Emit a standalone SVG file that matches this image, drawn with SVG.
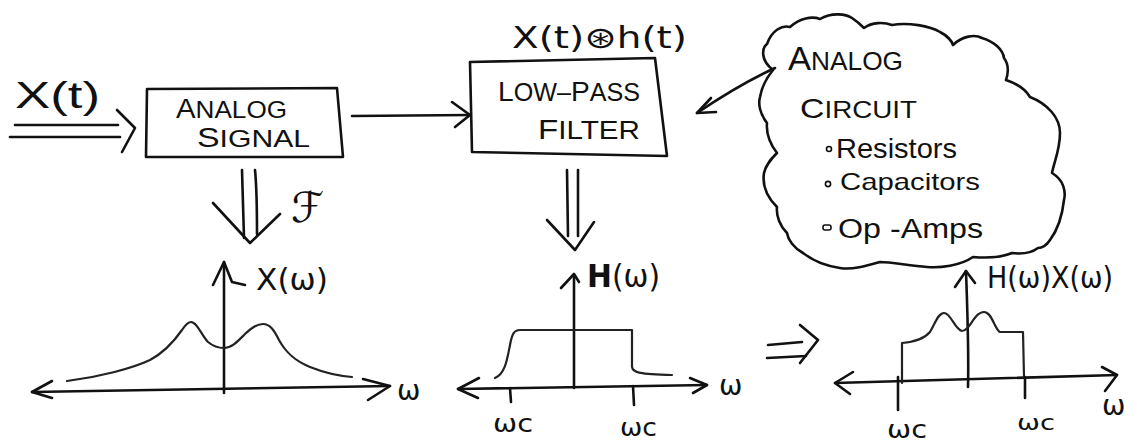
<svg xmlns="http://www.w3.org/2000/svg" width="1137" height="442" viewBox="0 0 1137 442">
<style>
.s{fill:none;stroke:#111;stroke-width:2.6;stroke-linecap:round;stroke-linejoin:round}
.c{fill:none;stroke:#222;stroke-width:2.2;stroke-linecap:round;stroke-linejoin:round}
.t{font-family:"Liberation Sans","DejaVu Sans",sans-serif;fill:#111}
.m{font-family:"DejaVu Sans","Liberation Sans",sans-serif;fill:#111}
</style>
<rect width="1137" height="442" fill="#fff"/>

<g id="input">
<text class="t" x="15" y="108" font-size="36" textLength="85" lengthAdjust="spacingAndGlyphs">X(t)</text>
</g>

<g id="analog-signal">
<path class="s" d="M147,89 L337,88 L343,157 L146,157 Z"/>
<text class="t" x="176" y="118" font-size="24" textLength="111" lengthAdjust="spacingAndGlyphs"><tspan font-size="27">A</tspan>NALOG</text>
<text class="t" x="197" y="147" font-size="24" textLength="113" lengthAdjust="spacingAndGlyphs"><tspan font-size="27">S</tspan>IGNAL</text>
</g>

<g id="low-pass-filter">
<path class="s" d="M470,62 L655,58 L667,156 L472,152 Z"/>
<text class="t" x="498" y="101" font-size="25" textLength="142" lengthAdjust="spacingAndGlyphs"><tspan font-size="28">L</tspan>OW–<tspan font-size="28">P</tspan>ASS</text>
<text class="t" x="538" y="139" font-size="25" textLength="102" lengthAdjust="spacingAndGlyphs"><tspan font-size="28">F</tspan>ILTER</text>
<text class="m" x="512" y="48" font-size="30" textLength="175" lengthAdjust="spacingAndGlyphs">X(t)⊛h(t)</text>
</g>

<g id="analog-circuit">
<path class="s" d="M773,70 C760,60 762,48 767,44 C772,30 782,25 790,27 C800,18 812,16 820,19 C832,12 846,14 852,18 C858,22 862,26 864,28 C872,22 884,22 892,25 C908,22 930,26 940,32 C948,36 952,42 953,45 C962,36 975,34 982,38 C995,42 1003,50 1004,58 C1010,66 1008,74 1006,80 C1018,84 1026,90 1030,97 C1048,104 1060,118 1060,133 C1060,150 1054,162 1052,173 C1064,180 1066,192 1064,200 C1062,218 1056,232 1050,240 C1046,246 1042,248 1038,248 C1030,254 1020,254 1012,253 C1000,258 985,258 973,257 C960,266 940,268 927,267 C910,266 892,262 880,262 C866,266 852,270 840,268 C826,266 812,260 803,253 C794,248 788,240 787,233 C780,226 776,216 777,207 C768,198 762,186 764,173 C766,164 772,158 777,153 C770,144 766,134 767,123 C760,114 758,104 760,97 C762,86 768,76 773,70 Z"/>
<text class="t" x="788" y="70" font-size="25" textLength="115" lengthAdjust="spacingAndGlyphs"><tspan font-size="33">A</tspan>NALOG</text>
<text class="t" x="800" y="118" font-size="23" textLength="117" lengthAdjust="spacingAndGlyphs"><tspan font-size="28">C</tspan>IRCUIT</text>
<circle cx="829" cy="149" r="2.5" fill="none" stroke="#111" stroke-width="1.6"/>
<text class="t" x="836" y="158" font-size="28" textLength="121" lengthAdjust="spacingAndGlyphs">Resistors</text>
<circle cx="828" cy="184" r="2.6" fill="none" stroke="#111" stroke-width="1.6"/>
<text class="t" x="840" y="190" font-size="24" textLength="140" lengthAdjust="spacingAndGlyphs">Capacitors</text>
<rect x="823" y="225" width="8" height="5" rx="2" fill="none" stroke="#111" stroke-width="1.6"/>
<text class="t" x="838" y="238" font-size="27" textLength="145" lengthAdjust="spacingAndGlyphs">Op -Amps</text>
</g>

<g id="spectrum-x">
<path class="s" d="M32,392 L390,386"/>
<path class="s" d="M52,381 L32,392 L52,398"/>
<path class="s" d="M363,379 L390,386 L368,400"/>
<path class="s" d="M224,393 L224,262"/>
<path class="s" d="M213,285 L224,262 L232,282 L245,285"/>
<path class="c" d="M67,381 C100,377 133,368 150,360 C165,352 175,340 182,330 C186,324 188,322 191,322 C197,322 202,336 208,342 C214,347 219,348 224,348 C232,348 238,341 245,334 C252,327 257,324 263,324 C270,324 274,330 279,340 C285,351 293,360 310,367 C325,373 340,376 352,377"/>
<text class="m" x="256" y="290" font-size="30" textLength="72" lengthAdjust="spacingAndGlyphs">X(ω)</text>
<text class="m" x="397" y="400" font-size="28">ω</text>
<text class="m" x="291" y="222" font-size="42">ℱ</text>
</g>

<g id="spectrum-h">
<path class="s" d="M458,389 L707,385"/>
<path class="s" d="M479,378 L458,389 L478,398"/>
<path class="s" d="M690,378 L707,385 L693,393"/>
<path class="s" d="M574,388 L574,275"/>
<path class="s" d="M561,288 L574,274 L579,282"/>
<path class="c" d="M495,378 C505,374 507,360 510,345 C512,334 514,330 520,330 L632,330 L632,367 C633,373 640,374 672,375"/>
<path class="s" d="M510,388 L511,402"/>
<path class="s" d="M633,386 L634,405"/>
<text class="m" x="587" y="287" font-size="32" textLength="73" lengthAdjust="spacingAndGlyphs"><tspan font-weight="bold">H</tspan>(ω)</text>
<text class="m" x="719" y="395" font-size="28">ω</text>
<text class="m" x="493" y="432" font-size="24" textLength="40" lengthAdjust="spacingAndGlyphs">ωc</text>
<text class="m" x="620" y="436" font-size="24" textLength="37" lengthAdjust="spacingAndGlyphs">ωc</text>
</g>

<g id="spectrum-hx">
<path class="s" d="M835,383 L1117,375"/>
<path class="s" d="M853,372 L835,383 L850,394"/>
<path class="s" d="M1102,367 L1117,375 L1105,391"/>
<path class="s" d="M968,387 C969,350 967,300 966,271"/>
<path class="s" d="M955,287 L966,271 L975,283"/>
<path class="c" d="M902,383 L902,343 C914,342 924,339 930,332 C935,324 938,313 944,313 C951,313 955,330 962,331 C970,331 974,312 984,312 C992,312 995,330 1000,332 L1023,332 L1024,377"/>
<path class="s" d="M898,377 L898,410"/>
<path class="s" d="M1025,377 L1025,398"/>
<text class="m" x="987" y="288" font-size="30" textLength="126" lengthAdjust="spacingAndGlyphs">H(ω)X(ω)</text>
<text class="m" x="887" y="438" font-size="24" textLength="40" lengthAdjust="spacingAndGlyphs">ωc</text>
<text class="m" x="1017" y="430" font-size="22" textLength="38" lengthAdjust="spacingAndGlyphs">ωc</text>
<text class="m" x="1102" y="415" font-size="28">ω</text>
</g>

<g id="connectors">
<path class="s" d="M15,125 L118,125"/>
<path class="s" d="M10,137 L120,137"/>
<path class="s" d="M117,110 L135,128 L122,152"/>
<path class="s" d="M352,116 L470,115"/>
<path class="s" d="M452,102 L470,115 L455,127"/>
<path class="s" d="M775,68 Q740,84 697,113"/>
<path class="s" d="M711,98 L697,113 L716,112"/>
<path class="s" d="M242,170 L244,238"/>
<path class="s" d="M255,170 C257,190 257,215 257,234"/>
<path class="s" d="M213,203 L250,243 L280,214"/>
<path class="s" d="M567,170 L568,236"/>
<path class="s" d="M578,170 L578,236"/>
<path class="s" d="M547,220 L575,250 L594,222"/>
<path class="s" d="M768,345 L802,342"/>
<path class="s" d="M767,358 L806,356"/>
<path class="s" d="M800,325 L818,340 L800,363"/>
</g>
</svg>
